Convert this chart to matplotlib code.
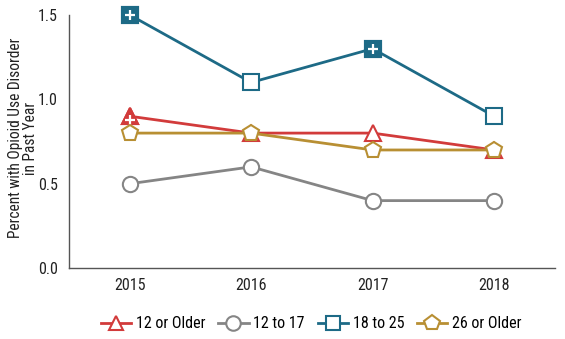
import matplotlib
matplotlib.use("Agg")
import matplotlib.pyplot as plt

years = [2015, 2016, 2017, 2018]
s12_older = [0.9, 0.8, 0.8, 0.7]
s12_17 = [0.5, 0.6, 0.4, 0.4]
s18_25 = [1.5, 1.1, 1.3, 0.9]
s26_older = [0.8, 0.8, 0.7, 0.7]
labels = ["12 or Older", "12 to 17", "18 to 25", "26 or Older"]
# significant-difference flags (filled marker with +)
sig12_older = [True, False, False, False]
sig18_25 = [True, False, True, False]

plt.rcParams['font.family'] = ['Roboto Condensed', 'DejaVu Sans']

fig = plt.figure(figsize=(5.65, 3.39), dpi=100)
ax = fig.add_axes([0.122, 0.209, 0.860, 0.747])

series = [
    (s12_older, "#d23b3b", "^", 11, sig12_older),
    (s12_17, "#858585", "o", 11, [False]*4),
    (s18_25, "#1d6a86", "s", 11, sig18_25),
    (s26_older, "#b88f33", "p", 12, [False]*4),
]
order = [1, 3, 0, 2]
handles = [None]*4
for i in order:
    vals, col, mk, ms, sig = series[i]
    ln, = ax.plot(years, vals, color=col, lw=2, marker=mk, ms=ms,
                  mfc="white", mec=col, mew=1.5, zorder=3 + i, clip_on=False,
                  label=labels[i])
    handles[i] = ln
    for x, v, s in zip(years, vals, sig):
        if s:
            ax.plot([x], [v], marker=mk, ms=ms, mfc=col, mec=col, mew=1.5,
                    ls="none", zorder=3 + i + 0.1, clip_on=False)
            ax.plot([x], [v - (0.02 if mk == "^" else 0)], marker="+", ms=ms*0.65,
                    mec="white", mew=1.6, ls="none", zorder=3 + i + 0.2, clip_on=False)

ax.set_xlim(2014.5, 2018.5)
ax.set_ylim(0, 1.5)
ax.set_xticks(years)
ax.set_xticklabels([str(y) for y in years])
ax.set_yticks([0, 0.5, 1.0, 1.5])
ax.set_yticklabels(["0.0", "0.5", "1.0", "1.5"])
ax.tick_params(axis="both", length=0, labelsize=11.5, colors="#222222", pad=7)
ax.tick_params(axis="y", pad=8)
for sp in ["top", "right"]:
    ax.spines[sp].set_visible(False)
for sp in ["left", "bottom"]:
    ax.spines[sp].set_color("#555555")
    ax.spines[sp].set_linewidth(1)
ax.set_ylabel("Percent with Opioid Use Disorder\nin Past Year", fontsize=11.2,
              color="#222222", linespacing=1.0)
ax.yaxis.set_label_coords(-0.064, 0.514)

fig.legend(handles=handles, labels=labels, loc="center", bbox_to_anchor=(0.551, 0.045),
           ncol=4, frameon=False, fontsize=11.5, handlelength=1.9, handletextpad=0.3,
           columnspacing=0.8, markerscale=0.95)

fig.savefig("out.png", dpi=100)
